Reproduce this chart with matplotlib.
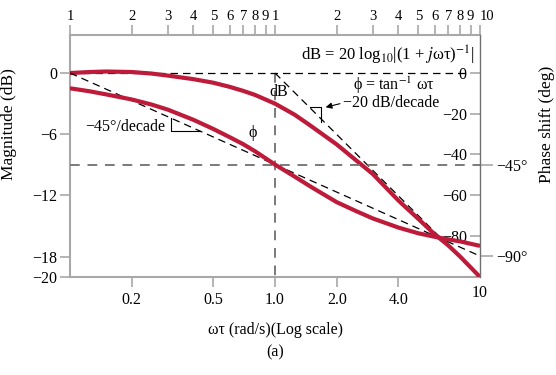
import numpy as np
import matplotlib.pyplot as plt
from matplotlib.ticker import NullLocator

plt.rcParams['font.family'] = ['Liberation Serif', 'DejaVu Serif']
plt.rcParams['mathtext.fontset'] = 'stix'

# values
w_tau = [0.1, 0.125, 0.15, 0.2, 0.25, 0.3, 0.4, 0.5, 0.6, 0.7, 0.8, 1.0,
         1.25, 1.5, 2.0, 2.5, 3.0, 4.0, 5.0, 6.0, 7.0, 8.0, 10.0]
mag_db = [0.0, 0.1, 0.15, 0.1, -0.05, -0.25, -0.6, -0.95, -1.35, -1.75, -2.15, -3.0,
          -4.1, -5.2, -7.0, -8.6, -9.9, -12.5, -14.3, -15.8, -16.9, -18.0, -20.0]
phase_deg = [-7.5, -9.0, -10.5, -13.0, -15.5, -18.0, -23.0, -27.5, -31.5, -35.0, -38.5, -45.0,
             -51.0, -56.0, -63.5, -68.0, -71.5, -76.0, -78.8, -80.5, -81.8, -82.8, -85.0]

# straight-line approximations
zero_w = [0.1, 8.6]
zero_db = [0, 0]
mag_asym_w = [1.0, 10.0]
mag_asym_db = [0, -20]
phase_asym_w = [0.1, 10.0]
phase_asym_deg = [0, -90]

# axis ticks
left_ticks = [0, -6, -12, -18, -20]
left_labels = ['0', '\u22126', '\u221212', '\u221218', '\u221220']
right_in_ticks = [0, -20, -40, -60, -80]
right_in_labels = ['0', '\u221220', '\u221240', '\u221260', '\u221280']
right_out_ticks = [-45, -90]
right_out_labels = ['\u221245\u00b0', '\u221290\u00b0']
bottom_ticks = [0.2, 0.5, 1.0, 2.0, 4.0]
bottom_labels = ['0.2', '0.5', '1.0', '2.0', '4.0']
top_ticks = [0.1, 0.2, 0.3, 0.4, 0.5, 0.6, 0.7, 0.8, 0.9,
             1, 2, 3, 4, 5, 6, 7, 8, 9, 10]
top_labels = ['1', '2', '3', '4', '5', '6', '7', '8', '9',
              '1', '2', '3', '4', '5', '6', '7', '8', '9', '10']

red = '#BE1A3A'
gray = '#a8a8a8'
dash_gray = '#7a7a7a'
fs = 11.5

fig = plt.figure(figsize=(5.56, 3.75), dpi=100)
ax = fig.add_axes([70 / 556, 98 / 375, 410 / 556, 242 / 375])
ax.set_xscale('log')
ax.set_xlim(0.1, 10)
ax.set_ylim(-20, 3.73)

ax2 = ax.twinx()
ax2.set_ylim(-100.3, 18.7)

# guide lines
ax.plot([1, 1], [0, -20], color=dash_gray, lw=1.4, dashes=(5, 4))
ax2.plot(phase_asym_w, [-45, -45], color=dash_gray, lw=1.4, dashes=(5, 4), clip_on=False)
ax.plot(zero_w, zero_db, color='k', lw=0.9, dashes=(6, 4))
ax.plot(mag_asym_w, mag_asym_db, color='k', lw=0.9, dashes=(6, 4))
ax2.plot(phase_asym_w, phase_asym_deg, color='k', lw=0.9, dashes=(6, 4))

# curves
ax.plot(w_tau, mag_db, color=red, lw=3, solid_capstyle='butt', zorder=3)
ax2.plot(w_tau, phase_deg, color=red, lw=3, solid_capstyle='butt', zorder=3)

# slope markers
def phase_line(w):
    return np.interp(np.log10(w), np.log10(phase_asym_w), phase_asym_deg)

def mag_line(w):
    return np.interp(np.log10(w), np.log10(mag_asym_w), mag_asym_db)

pa, pb = 0.312, 0.433
ax2.plot([pa, pa, pb], [phase_line(pa), phase_line(pb), phase_line(pb)], color='k', lw=0.8)
ma, mb = 1.475, 1.67
ax.plot([ma, mb, mb], [mag_line(ma), mag_line(ma), mag_line(mb) - 0.3], color='k', lw=0.8)

# annotations
ax.text(9.36, 1.7, r'dB = 20 log$_{10}$|(1 + $j$ωτ)$^{-1}$|', ha='right', va='center', fontsize=12)
ax.text(3.79, -1.18, r'ϕ = tan$^{-1}$ ωτ', ha='center', va='center', fontsize=fs)
ax.text(1.04, -1.9, 'dB', ha='center', va='center', fontsize=fs)
ax.text(0.776, -5.9, 'ϕ', ha='center', va='center', fontsize=fs)
ax.text(0.292, -5.3, '\u221245\u00b0/decade', ha='right', va='center', fontsize=fs)
ax.annotate('\u221220 dB/decade', xy=(1.766, -3.35), xytext=(2.14, -2.94),
            ha='left', va='center', fontsize=fs,
            arrowprops=dict(arrowstyle='-|>', color='k', lw=0.8, shrinkA=0, shrinkB=0,
                            mutation_scale=9, relpos=(0, 0.5)))

# spines
for s in ['left', 'bottom', 'top']:
    ax.spines[s].set_color(gray)
    ax.spines[s].set_linewidth(1.5)
ax.spines['right'].set_visible(False)
for s in ['left', 'bottom', 'top']:
    ax2.spines[s].set_visible(False)
ax2.spines['right'].set_color('#707070')
ax2.spines['right'].set_linewidth(1.0)

# left axis
ax.set_yticks(left_ticks, left_labels)
ax.tick_params(axis='y', length=7, width=1.2, color=gray, pad=2, labelsize=fs)
ax.set_ylabel('Magnitude (dB)', fontsize=12.5)
ax.yaxis.set_label_coords(-0.129, 0.632)

# bottom axis
ax.set_xticks(bottom_ticks, bottom_labels)
ax.set_xticks([10], ['10'], minor=True)
ax.tick_params(axis='x', which='major', length=7, width=1.2, color=gray, pad=4, labelsize=fs)
ax.tick_params(axis='x', which='minor', length=0, pad=6, labelsize=fs)
ax.set_xlabel('ωτ (rad/s)(Log scale)', fontsize=fs, labelpad=10)
ax.text(0.5, -0.31, '(a)', transform=ax.transAxes, ha='center', va='center', fontsize=fs)

# top axis
top = ax.secondary_xaxis('top')
top.set_xticks(top_ticks, top_labels)
top.xaxis.set_minor_locator(NullLocator())
top.tick_params(axis='x', length=7, width=1.2, color=gray, pad=1.5, labelsize=10.5)
top.spines['top'].set_visible(False)
top.get_xticklabels()[-1].set_ha('left')

# right axis
ax2.set_yticks(right_out_ticks, right_out_labels)
ax2.set_yticks(right_in_ticks, right_in_labels, minor=True)
ax2.tick_params(axis='y', which='major', direction='out', length=9, width=1.2, color=gray, pad=3, labelsize=fs)
ax2.tick_params(axis='y', which='minor', direction='in', length=7, width=1.2, color=gray, pad=-9.5, labelsize=fs)
for lbl in ax2.get_yticklabels(minor=True):
    lbl.set_ha('right')
ax2.set_ylabel('Phase shift (deg)', fontsize=12.5)
ax2.yaxis.set_label_coords(1.143, 0.632)

fig.savefig('out.png', dpi=100)
